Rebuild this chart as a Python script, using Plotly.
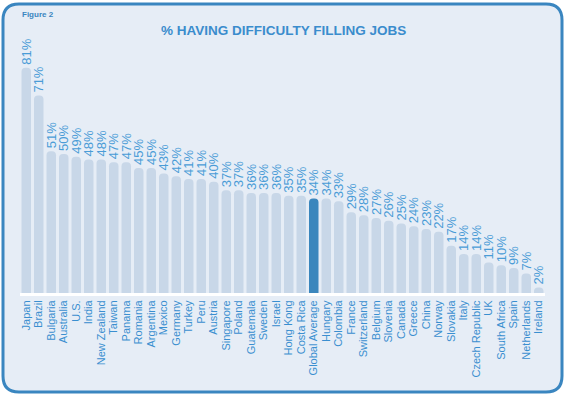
import plotly.graph_objects as go

countries = ["Japan", "Brazil", "Bulgaria", "Australia", "U.S.", "India", "New Zealand",
             "Taiwan", "Panama", "Romania", "Argentina", "Mexico", "Germany", "Turkey",
             "Peru", "Austria", "Singapore", "Poland", "Guatemala", "Sweden", "Israel",
             "Hong Kong", "Costa Rica", "Global Average", "Hungary", "Colombia", "France",
             "Switzerland", "Belgium", "Slovenia", "Canada", "Greece", "China", "Norway",
             "Slovakia", "Italy", "Czech Republic", "UK", "South Africa", "Spain",
             "Netherlands", "Ireland"]
values = [81, 71, 51, 50, 49, 48, 48, 47, 47, 45, 45, 43, 42, 41, 41, 40, 37, 37, 36, 36,
          36, 35, 35, 34, 34, 33, 29, 28, 27, 26, 25, 24, 23, 22, 17, 14, 14, 11, 10, 9, 7, 2]
highlight = "Global Average"

W, H = 565, 395
L, R, T, B = 20, 20, 40, 102
pw, ph = W - L - R, H - T - B

def px(x):
    return (x - L) / pw

def py(y):
    return (H - B - y) / ph

colors = ["#3a86bd" if c == highlight else "#c8d7e8" for c in countries]

fig = go.Figure(go.Bar(
    x=countries, y=values,
    marker=dict(color=colors, line=dict(width=0)),
    text=[f"{v}%" for v in values],
    textposition="outside", textangle=-90, constraintext="none",
    textfont=dict(color="#4a9cd6", size=13, family="Liberation Sans, Arial"),
    cliponaxis=False,
))

# rounded border path
x0, x1, y0, y1, r = 3, 562, 4, 392, 16
path = (f"M {px(x0+r)},{py(y0)} L {px(x1-r)},{py(y0)} Q {px(x1)},{py(y0)} {px(x1)},{py(y0+r)} "
        f"L {px(x1)},{py(y1-r)} Q {px(x1)},{py(y1)} {px(x1-r)},{py(y1)} "
        f"L {px(x0+r)},{py(y1)} Q {px(x0)},{py(y1)} {px(x0)},{py(y1-r)} "
        f"L {px(x0)},{py(y0+r)} Q {px(x0)},{py(y0)} {px(x0+r)},{py(y0)} Z")

fig.update_layout(
    width=W, height=H,
    margin=dict(l=L, r=R, t=T, b=B, autoexpand=False),
    paper_bgcolor="white", plot_bgcolor="rgba(0,0,0,0)",
    bargap=0.24, barcornerradius=4,
    showlegend=False,
    font=dict(family="Liberation Sans, Arial", color="#3a8fd0"),
    xaxis=dict(tickangle=-90, tickfont=dict(size=11, color="#3a8fd0"),
               tickmode="array", tickvals=countries, ticktext=countries,
               showline=True, linecolor="white", linewidth=3, ticks="",
               showgrid=False, zeroline=False, automargin=False),
    yaxis=dict(range=[0, 91], visible=False, showgrid=False, zeroline=False,
               automargin=False),
    shapes=[dict(type="path", xref="paper", yref="paper", path=path,
                 fillcolor="#e6edf6", line=dict(color="#3a86c0", width=3), layer="below")],
    annotations=[
        dict(text="<b>% HAVING DIFFICULTY FILLING JOBS</b>", xref="paper", yref="paper",
             x=px(283.5), y=py(31), xanchor="center", yanchor="middle", showarrow=False,
             font=dict(size=13.5, color="#3a8ccd", family="Liberation Sans, Arial")),
        dict(text="<b>Figure 2</b>", xref="paper", yref="paper",
             x=px(20), y=py(15), xanchor="left", yanchor="middle", showarrow=False,
             font=dict(size=8, color="#3a86c0", family="Liberation Sans, Arial")),
    ],
)

fig.write_html("out.html", config={"displayModeBar": False},
               post_script="document.body.style.margin='0';document.body.style.overflow='hidden';")
